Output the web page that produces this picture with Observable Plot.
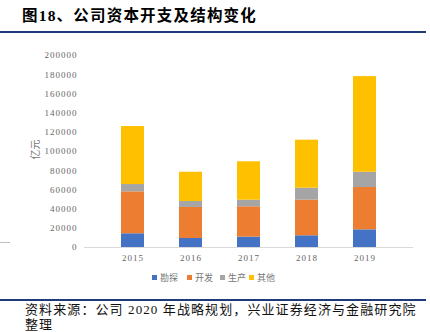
<!DOCTYPE html>
<html><head><meta charset="utf-8">
<script src="https://cdn.jsdelivr.net/npm/d3@7"></script>
<script src="https://cdn.jsdelivr.net/npm/@observablehq/plot@0.6"></script>
<style>
body{margin:0;background:#fff;width:430px;height:332px;overflow:hidden;position:relative;font-family:"Liberation Serif","Noto Sans CJK SC",serif;}
#title{position:absolute;left:22px;top:3px;font-size:15.5px;font-weight:bold;color:#000;letter-spacing:1.2px;white-space:nowrap;}
.rule{position:absolute;left:0;width:426px;height:2px;background:#1F3A78;}
#chart{position:absolute;left:0;top:40px;}
#ylab{position:absolute;left:24px;top:142px;font-size:10px;color:#777;transform:rotate(-90deg);white-space:nowrap;font-family:"Noto Sans CJK SC";}
#legend{position:absolute;top:271px;left:0;width:430px;text-align:left;font-size:9px;color:#777;font-family:"Noto Sans CJK SC";}
.li{position:absolute;white-space:nowrap;}
.sw{display:inline-block;width:5px;height:5px;margin-right:3px;vertical-align:1px;}
#cap{position:absolute;left:25px;top:302px;font-size:13px;letter-spacing:1.1px;color:#111;white-space:nowrap;line-height:15px;font-family:"Liberation Serif","Noto Sans CJK SC";}
#stub{position:absolute;left:0;top:242px;width:10px;height:1px;background:#BFBFBF;}
</style></head>
<body>
<div id="title">图18、公司资本开支及结构变化</div>
<div class="rule" style="top:31px"></div>
<div id="chart"></div>
<div id="stub"></div>
<div id="ylab">亿元</div>
<div id="legend"></div>
<div class="rule" style="top:299px;height:1.5px"></div>
<div id="cap">资料来源：公司 2020 年战略规划，兴业证券经济与金融研究院<br>整理</div>
<script>
const years = ["2015","2016","2017","2018","2019"];
const series = ["勘探","开发","生产","其他"];
const explore = [14300, 9400, 10800, 12200, 18400];
const develop = [43700, 32300, 31600, 37100, 44100];
const produce = [7600, 6200, 6900, 12500, 15900];
const other = [60400, 30500, 40000, 50000, 99600];
const colors = ["#4472C4","#ED7D31","#A5A5A5","#FFC000"];
const yTicks = [0,20000,40000,60000,80000,100000,120000,140000,160000,180000,200000];

const vals = [explore, develop, produce, other];
const data = [];
series.forEach((s,i)=>years.forEach((y,j)=>data.push({year:y, series:s, value:vals[i][j]})));

const plot = Plot.plot({
  width:430, height:230,
  marginLeft:84, marginRight:17, marginTop:15, marginBottom:23,
  style:{fontFamily:"Liberation Serif", fontSize:"9px", color:"#666", background:"transparent"},
  x:{domain:years, padding:0.6, label:null, tickSize:0, tickPadding:7},
  y:{domain:[0,200000], ticks:yTicks, label:null, tickSize:0, tickPadding:7, tickFormat:d=>String(d)},
  color:{domain:series, range:colors},
  marks:[
    Plot.barY(data,{x:"year", y:"value", fill:"series", order:series}),
    Plot.ruleY([0],{stroke:"#D9D9D9", strokeWidth:1})
  ]
});
plot.querySelectorAll("text").forEach(t=>t.setAttribute("letter-spacing","1"));
document.getElementById("chart").appendChild(plot);

const lg = document.getElementById("legend");
const lx = [152, 187, 220, 249];
series.forEach((s,i)=>{
  const d = document.createElement("span");
  d.className="li"; d.style.left=lx[i]+"px";
  d.innerHTML = `<span class="sw" style="background:${colors[i]}"></span>${s}`;
  lg.appendChild(d);
});
</script>
</body></html>
